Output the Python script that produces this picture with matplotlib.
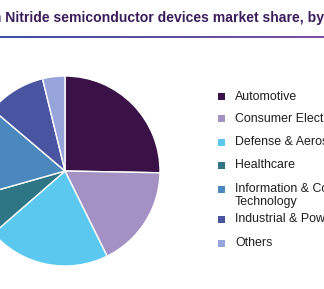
import matplotlib
matplotlib.use('Agg')
import matplotlib.pyplot as plt
import numpy as np
from matplotlib.colors import LinearSegmentedColormap
from matplotlib.patches import Rectangle

plt.rcParams['font.family'] = ['Liberation Sans', 'DejaVu Sans']

# market share by application (%)
segments = ['Automotive', 'Consumer Electronics', 'Defense & Aerospace', 'Healthcare',
            'Information & Communication\nTechnology', 'Industrial & Power', 'Others']
shares = [25.3, 17.4, 20.9, 7.0, 15.6, 10.0, 3.8]
colors = ['#3a1248', '#a391c4', '#5bc8f0', '#2e7585', '#4a88bd', '#4a55a2', '#97a5dc']

title_head = 'Gallium '
title = 'Gallium Nitride semiconductor devices market share, by application, 2016 (%)'

W, H = 324, 289
fig = plt.figure(figsize=(W / 100, H / 100), dpi=100)
renderer = fig.canvas.get_renderer()

# title, cut off on both sides like the source crop; "Nitride" starts near x=8
tfont = dict(fontsize=10.1, fontweight='bold')
probe = fig.text(0, 0, title_head.replace(' ', '_'), **tfont)
head_w = probe.get_window_extent(renderer).width
probe.remove()
fig.text((9 - head_w) / W, 1 - 18 / H, title, color='#3b1d5a',
         va='center', ha='left', **tfont)

# gradient rule under the title
lax = fig.add_axes([0, 1 - 38.5 / H, 1, 2 / H])
cmap = LinearSegmentedColormap.from_list('rule', ['#3f51a3', '#7b4f9f'])
lax.imshow(np.linspace(0, 1, 256)[None, :], aspect='auto', cmap=cmap)
lax.axis('off')

# pie, centred at about (65, 171) px with radius 95 px
cx, cy, r = 65, 171, 95
ax = fig.add_axes([(cx - r) / W, 1 - (cy + r) / H, 2 * r / W, 2 * r / H])
ax.pie(shares, colors=colors, startangle=90, counterclock=False,
       wedgeprops=dict(edgecolor='white', linewidth=1.0))
ax.set_xlim(-1, 1)
ax.set_ylim(-1, 1)
ax.set_aspect('equal')
ax.axis('off')

# legend drawn by hand: marker aligned with the first text line
row_y = [96, 119, 142, 165, 189, 219, 243]
for label, col, y in zip(segments, colors, row_y):
    fig.patches.append(Rectangle((218 / W, 1 - (y + 3.5) / H), 7 / W, 7 / H,
                                 transform=fig.transFigure, facecolor=col,
                                 edgecolor='none'))
    fig.text(235 / W, 1 - (y - 5.5) / H, label, fontsize=8.9, color='#1e1e1e',
             va='top', ha='left', linespacing=1.05)

fig.savefig('out.png', dpi=100)
